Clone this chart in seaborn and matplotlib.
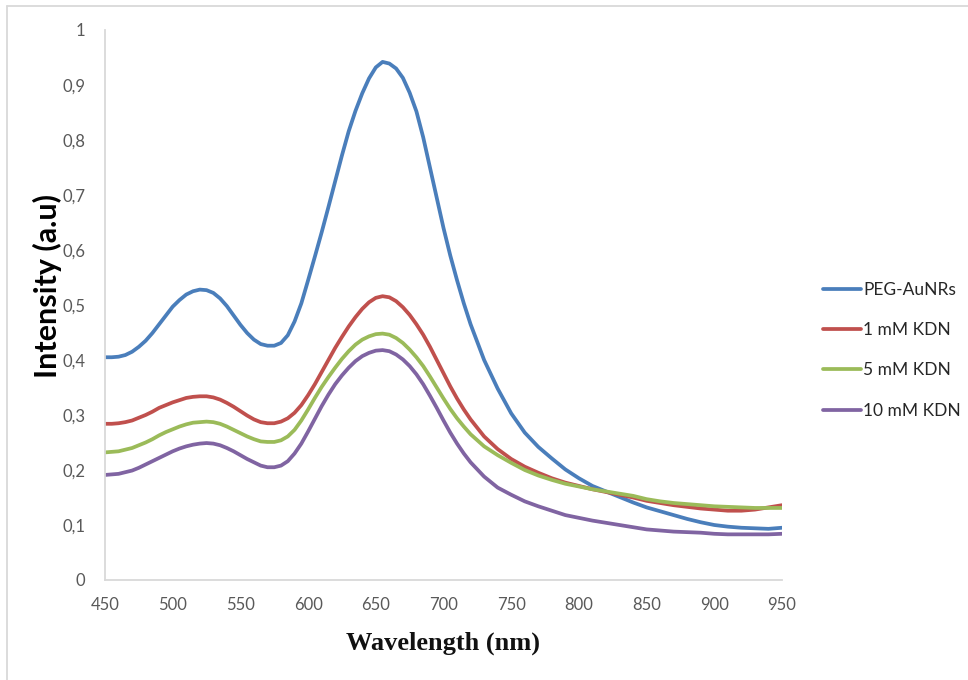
import matplotlib
matplotlib.use("Agg")
import matplotlib.pyplot as plt
import seaborn as sns
import pandas as pd
from matplotlib.lines import Line2D
from matplotlib.ticker import FuncFormatter

# Absorption spectra (wavelength in nm, intensity in a.u.)
wavelength = [450, 455, 460, 465, 470, 475, 480, 485, 490, 495, 500,
              505, 510, 515, 520, 525, 530, 535, 540, 545, 550, 555,
              560, 565, 570, 575, 580, 585, 590, 595, 600, 605, 610,
              615, 620, 625, 630, 635, 640, 645, 650, 655, 660, 665,
              670, 675, 680, 685, 690, 695, 700, 705, 710, 715, 720,
              730, 740, 750, 760, 770, 780, 790, 800, 810, 820, 830, 840,
              850, 860, 870, 880, 890, 900, 910, 920, 930, 940, 950]

peg_aunrs = [0.405, 0.405, 0.406, 0.409, 0.415, 0.424, 0.435, 0.449, 0.465, 0.481, 0.497,
             0.509, 0.519, 0.525, 0.528, 0.527, 0.522, 0.512, 0.498, 0.481, 0.464, 0.449,
             0.437, 0.429, 0.426, 0.426, 0.431, 0.445, 0.470, 0.503, 0.545, 0.588, 0.632,
             0.678, 0.725, 0.772, 0.816, 0.853, 0.885, 0.912, 0.932, 0.942, 0.939, 0.930,
             0.913, 0.886, 0.852, 0.805, 0.750, 0.695, 0.640, 0.590, 0.545, 0.503, 0.465,
             0.400, 0.348, 0.303, 0.268, 0.242, 0.221, 0.201, 0.185, 0.171, 0.161, 0.151,
             0.141, 0.132, 0.125, 0.118, 0.111, 0.105, 0.100, 0.097, 0.095, 0.094, 0.093,
             0.095]

kdn_1mm = [0.284, 0.284, 0.285, 0.287, 0.290, 0.295, 0.300, 0.306, 0.313, 0.318, 0.323,
           0.327, 0.331, 0.333, 0.334, 0.334, 0.332, 0.328, 0.322, 0.315, 0.307, 0.299,
           0.292, 0.287, 0.285, 0.285, 0.288, 0.294, 0.304, 0.318, 0.336, 0.356, 0.378,
           0.400, 0.422, 0.442, 0.461, 0.478, 0.493, 0.505, 0.513, 0.516, 0.514, 0.507,
           0.496, 0.482, 0.465, 0.446, 0.424, 0.400, 0.376, 0.352, 0.330, 0.310, 0.292,
           0.261, 0.238, 0.220, 0.206, 0.195, 0.185, 0.177, 0.171, 0.165, 0.160, 0.155,
           0.150, 0.144, 0.140, 0.136, 0.133, 0.130, 0.128, 0.126, 0.126, 0.128, 0.132,
           0.136]

kdn_5mm = [0.232, 0.233, 0.234, 0.237, 0.240, 0.245, 0.250, 0.256, 0.263, 0.269, 0.274,
           0.279, 0.283, 0.286, 0.287, 0.288, 0.287, 0.284, 0.279, 0.273, 0.267, 0.261,
           0.256, 0.252, 0.251, 0.251, 0.254, 0.261, 0.273, 0.290, 0.310, 0.331, 0.351,
           0.369, 0.386, 0.402, 0.416, 0.428, 0.437, 0.443, 0.447, 0.448, 0.446, 0.440,
           0.431, 0.419, 0.405, 0.389, 0.370, 0.350, 0.330, 0.311, 0.294, 0.279, 0.265,
           0.243, 0.227, 0.213, 0.200, 0.190, 0.182, 0.175, 0.170, 0.165, 0.161, 0.157,
           0.153, 0.147, 0.143, 0.140, 0.138, 0.136, 0.134, 0.133, 0.132, 0.131, 0.131,
           0.131]

kdn_10mm = [0.191, 0.192, 0.193, 0.196, 0.199, 0.204, 0.210, 0.216, 0.222, 0.228, 0.234,
            0.239, 0.243, 0.246, 0.248, 0.249, 0.248, 0.245, 0.240, 0.234, 0.227, 0.220,
            0.214, 0.208, 0.205, 0.205, 0.208, 0.216, 0.230, 0.248, 0.270, 0.293, 0.316,
            0.337, 0.356, 0.372, 0.386, 0.398, 0.407, 0.413, 0.417, 0.418, 0.416, 0.410,
            0.401, 0.389, 0.374, 0.356, 0.335, 0.313, 0.290, 0.268, 0.248, 0.230, 0.214,
            0.188, 0.168, 0.155, 0.143, 0.134, 0.126, 0.118, 0.113, 0.108, 0.104, 0.100,
            0.096, 0.092, 0.090, 0.088, 0.087, 0.086, 0.084, 0.083, 0.083, 0.083, 0.083,
            0.084]

series_names = ["PEG-AuNRs", "1 mM KDN", "5 mM KDN", "10 mM KDN"]
series_values = [peg_aunrs, kdn_1mm, kdn_5mm, kdn_10mm]
series_colors = ["#4A7EBB", "#C0504D", "#9BBB59", "#8064A2"]

x_ticks = [450, 500, 550, 600, 650, 700, 750, 800, 850, 900, 950]
y_ticks = [0, 0.1, 0.2, 0.3, 0.4, 0.5, 0.6, 0.7, 0.8, 0.9, 1]

frames = []
for name, vals in zip(series_names, series_values):
    frames.append(pd.DataFrame({"Wavelength": wavelength,
                                "Intensity": vals,
                                "Sample": name}))
df = pd.concat(frames, ignore_index=True)

sns.set_style("white")
plt.rcParams["font.family"] = ["Lato", "DejaVu Sans"]

W, H = 968, 680
fig = plt.figure(figsize=(W / 100, H / 100), dpi=100)
ax = fig.add_axes([105 / W, 1 - 580 / H, (782 - 105) / W, (580 - 30) / H])

sns.lineplot(data=df, x="Wavelength", y="Intensity", hue="Sample",
             hue_order=series_names, palette=series_colors,
             linewidth=2.7, ax=ax, legend=False)
for ln in ax.lines:
    ln.set_solid_joinstyle("round")
    ln.set_solid_capstyle("round")

ax.set_xlim(450, 950)
ax.set_ylim(0, 1)
ax.set_xticks(x_ticks)
ax.set_yticks(y_ticks)


def comma_fmt(v, _pos):
    if abs(v - round(v)) < 1e-9:
        return str(int(round(v)))
    return f"{v:.1f}".replace(".", ",")


ax.yaxis.set_major_formatter(FuncFormatter(comma_fmt))
ax.tick_params(axis="both", length=0, labelsize=12, labelcolor="#595959")
ax.tick_params(axis="y", pad=14)
ax.tick_params(axis="x", pad=12)

for side in ["top", "right"]:
    ax.spines[side].set_visible(False)
for side in ["left", "bottom"]:
    ax.spines[side].set_color("#D9D9D9")
    ax.spines[side].set_linewidth(1.3)
ax.grid(False)

ax.set_ylabel("Intensity (a.u)", fontsize=22, fontweight="bold", color="black")
ax.yaxis.set_label_coords((47 - 105) / 677, (580 - 286) / 550)
ax.yaxis.label.set_va("center")

ax.set_xlabel("Wavelength (nm)", fontsize=19, fontweight="bold", color="#111111",
              family=["Liberation Serif", "DejaVu Serif"])
ax.xaxis.set_label_coords(0.5, (580 - 643) / 550)
ax.xaxis.label.set_va("center")

handles = [Line2D([0], [0], color=c, linewidth=2.7, solid_capstyle="round")
           for c in series_colors]
fig.legend(handles, series_names, loc="upper left",
           bbox_to_anchor=(814 / W, 1 - 273 / H), frameon=False,
           fontsize=12.5, handlelength=2.2, handletextpad=0.15,
           labelspacing=1.4, borderpad=0, labelcolor="#262626")

# Chart area outline (top and left edges)
fig.add_artist(Line2D([7 / W, 1.0], [1 - 6 / H, 1 - 6 / H],
                      transform=fig.transFigure, color="#D9D9D9", linewidth=1.3))
fig.add_artist(Line2D([7 / W, 7 / W], [0.0, 1 - 6 / H],
                      transform=fig.transFigure, color="#D9D9D9", linewidth=1.3))

fig.savefig("out.png", dpi=100, facecolor="white")
